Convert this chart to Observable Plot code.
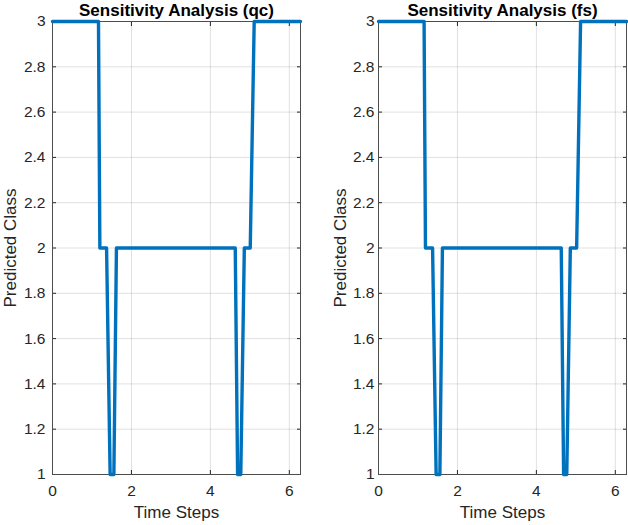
<!DOCTYPE html>
<html>
<head>
<meta charset="utf-8">
<script src="https://cdn.jsdelivr.net/npm/d3@7"></script>
<script src="https://cdn.jsdelivr.net/npm/@observablehq/plot@0.6"></script>
<style>
  html, body { margin: 0; padding: 0; background: #fff; }
  #wrap { display: flex; width: 628px; height: 525px; }
  svg { font-family: "Liberation Sans", Arial, sans-serif; }
</style>
</head>
<body>
<div id="wrap"></div>
<script>
// Panel titles
const titles = ["Sensitivity Analysis (qc)", "Sensitivity Analysis (fs)"];
// Time steps (x) and predicted class (y) for each panel
const timeQc  = [0, 1.165, 1.20, 1.37, 1.46, 1.555, 1.62, 4.63, 4.69, 4.77, 4.86, 5.01, 5.11, 6.2832];
const classQc = [3, 3,     2,    2,    1,    1,     2,    2,    1,    1,    2,    2,    3,    3];
const timeFs  = [0, 1.155, 1.19, 1.37, 1.46, 1.555, 1.62, 4.63, 4.69, 4.77, 4.86, 5.02, 5.12, 6.2832];
const classFs = [3, 3,     2,    2,    1,    1,     2,    2,    1,    1,    2,    2,    3,    3];
// Tick values
const xTicks = [0, 2, 4, 6];
const yTicks = [1, 1.2, 1.4, 1.6, 1.8, 2, 2.2, 2.4, 2.6, 2.8, 3];
const xLabel = "Time Steps";
const yLabel = "Predicted Class";

const panels = [
  {title: titles[0], t: timeQc, c: classQc, marginLeft: 52, marginRight: 14, pad: 11, labelDx: -42},
  {title: titles[1], t: timeFs, c: classFs, marginLeft: 64, marginRight: 2, pad: 8, labelDx: -38}
];

const lineColor = "#0072BD";
const axisColor = "#262626";

for (const p of panels) {
  const data = p.t.map((t, i) => ({t, c: p.c[i]}));
  const chart = Plot.plot({
    width: 314,
    height: 525,
    marginLeft: p.marginLeft,
    marginRight: p.marginRight,
    marginTop: 21,
    marginBottom: 51,
    style: {fontFamily: "'Liberation Sans', Arial, sans-serif", fontSize: "15.5px", color: axisColor, background: "#fff"},
    x: {domain: [0, 2 * Math.PI]},
    y: {domain: [1, 3]},
    marks: [
      Plot.gridX(xTicks, {stroke: "#000", strokeOpacity: 0.12}),
      Plot.gridY(yTicks, {stroke: "#000", strokeOpacity: 0.12}),
      Plot.axisX({ticks: xTicks, anchor: "bottom", tickSize: -4, tickPadding: 14, label: null, fontSize: 15.5, tickFormat: d3.format("d")}),
      Plot.axisX({ticks: xTicks, anchor: "top", tickSize: -4, text: null, label: null}),
      Plot.axisY({ticks: yTicks, anchor: "left", tickSize: -4, tickPadding: p.pad, label: null, fontSize: 15.5, tickFormat: d => String(+d.toFixed(1))}),
      Plot.axisY({ticks: yTicks, anchor: "right", tickSize: -4, text: null, label: null}),
      Plot.frame({stroke: "#4d4d4d", strokeWidth: 1}),
      Plot.line(data, {x: "t", y: "c", stroke: lineColor, strokeWidth: 3.4, strokeLinejoin: "round", strokeLinecap: "round", clip: false}),
      Plot.text([p.title], {frameAnchor: "top", lineAnchor: "middle", textAnchor: "middle", dy: -11, fontSize: 17, fontWeight: "bold", fill: "#000"}),
      Plot.text([xLabel], {frameAnchor: "bottom", lineAnchor: "middle", textAnchor: "middle", dy: 38, fontSize: 17, fill: axisColor}),
      Plot.text([yLabel], {frameAnchor: "left", lineAnchor: "middle", textAnchor: "middle", dx: p.labelDx, rotate: -90, fontSize: 17, fill: axisColor})
    ]
  });
  document.getElementById("wrap").appendChild(chart);
}
</script>
</body>
</html>
